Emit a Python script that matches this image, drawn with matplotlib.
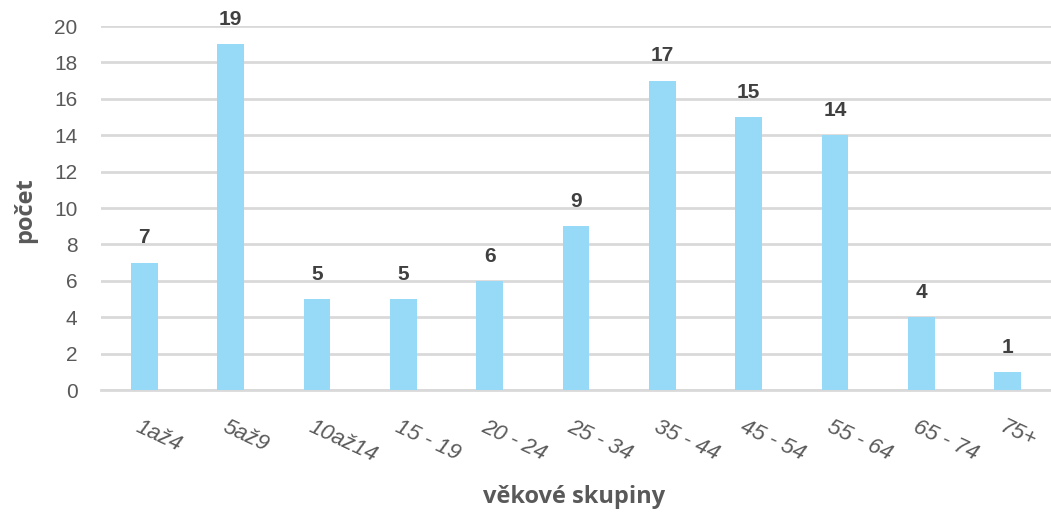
import matplotlib
matplotlib.use("Agg")
import matplotlib.pyplot as plt
import numpy as np

categories = ["1až4", "5až9", "10až14", "15 - 19", "20 - 24", "25 - 34",
              "35 - 44", "45 - 54", "55 - 64", "65 - 74", "75+"]
counts = [7, 19, 5, 5, 6, 9, 17, 15, 14, 4, 1]
yticks = [0, 2, 4, 6, 8, 10, 12, 14, 16, 18, 20]

text_col = "#595959"
bar_col = "#97DAF7"
grid_col = "#D9D9D9"

plt.rcParams['font.family'] = ['Liberation Sans', 'DejaVu Sans']

fig = plt.figure(figsize=(10.51, 5.18), dpi=100)
ax = fig.add_axes([101/1051, 1 - 390/518, 950/1051, 364/518])

x = np.arange(len(categories))
ax.bar(x, counts, width=0.31, color=bar_col, zorder=3)

for xi, v in zip(x, counts):
    ax.annotate(str(v), (xi, v), xytext=(0, 11), textcoords="offset points",
                ha="center", va="bottom", fontsize=15, fontweight="bold",
                color="#404040")

ax.set_xlim(-0.5, len(categories) - 0.5)
ax.set_ylim(0, 20)
ax.set_yticks(yticks)
ax.yaxis.grid(True, color=grid_col, linewidth=2, zorder=0)
ax.tick_params(axis="y", length=0, pad=17, labelsize=15, labelcolor=text_col)
ax.tick_params(axis="x", length=0)
ax.set_xticks(x)
ax.set_xticklabels([])
for xi, lab in zip(x, categories):
    ax.annotate(lab, (xi, 0), xytext=(-2, -19), textcoords="offset points",
                rotation=-25, rotation_mode="anchor", ha="left", va="top",
                fontsize=16, fontstyle="italic", color=text_col,
                annotation_clip=False)

for s in ["top", "right", "left"]:
    ax.spines[s].set_visible(False)
ax.spines["bottom"].set_color(grid_col)
ax.spines["bottom"].set_linewidth(2)

fig.text(25/1051, 1 - 210/518, "počet", rotation=90, ha="center", va="center",
         fontsize=17, fontweight="bold", color=text_col,
         family=["Open Sans", "DejaVu Sans"])
fig.text(574/1051, 1 - 497/518, "věkové skupiny", ha="center", va="center",
         fontsize=17, fontweight="bold", color=text_col,
         family=["Open Sans", "DejaVu Sans"])

fig.savefig("out.png", dpi=100)
